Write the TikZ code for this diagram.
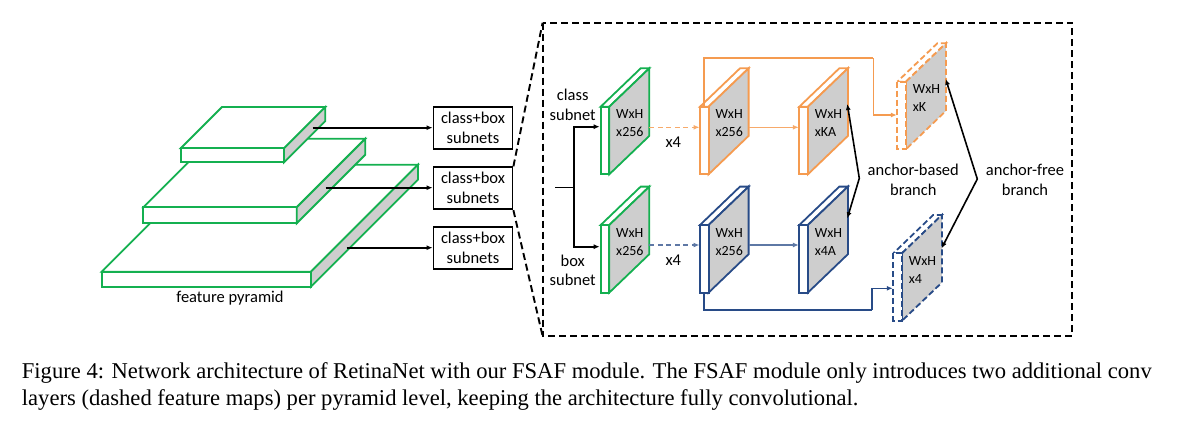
\documentclass[tikz,border=0pt]{standalone}
\usepackage{fontspec}
\setmainfont{Carlito}
\newfontfamily\capfont{Liberation Serif}
\usetikzlibrary{arrows.meta,calc}
\definecolor{fgreen}{RGB}{20,176,80}
\definecolor{forange}{RGB}{245,155,80}
\definecolor{fblue}{RGB}{40,75,135}
\definecolor{fgray}{RGB}{206,206,206}
\tikzset{
  slabline/.style={draw=fgreen, line width=1.8pt},
  box/.style={draw, line width=1.8pt, minimum width=79pt, minimum height=42pt, inner sep=0pt, align=center, font=\fontsize{16.5}{20}\selectfont},
  lbl/.style={inner sep=0pt, align=center, font=\fontsize{16.5}{19.5}\selectfont},
  maptext/.style={anchor=north west, inner sep=0pt, align=left, font=\fontsize{14}{18}\selectfont},
  captext/.style={anchor=base west, inner sep=0pt, font=\capfont\fontsize{22.6}{27}\selectfont},
  arr/.style={-{Latex[length=6pt,width=5pt]}, line width=1.6pt},
  cdash/.style={dash pattern=on 5pt off 3.5pt},
  mapdash/.style={dash pattern=on 6pt off 3pt},
  bigdash/.style={line width=1.9pt, dash pattern=on 7pt off 4pt},
  dblarr/.style={{Latex[length=6pt,width=5pt]}-{Latex[length=6pt,width=5pt]}, line width=1.6pt},
}
\newcommand{\slab}[5]{%
  \filldraw[slabline,fill=white] (#1,#2) -- (#1+#3,#2) -- (#1+#3+#5,#2-#5) -- (#1+#5,#2-#5) -- cycle;
  \filldraw[slabline,fill=white] (#1,#2) rectangle (#1+#3,#2+#4);
  \filldraw[slabline,fill=fgray] (#1+#3,#2) -- (#1+#3+#5,#2-#5) -- (#1+#3+#5,#2-#5+#4) -- (#1+#3,#2+#4) -- cycle;
}
\newcommand{\fmap}[3]{%
  \begin{scope}[draw=#2, line width=1.8pt, #3]
    \filldraw[fill=white] (#1) -- ++(8.6,0) -- ++(40,-38.4) -- ++(-8.6,0) -- cycle;
    \filldraw[fill=fgray] ($(#1)+(8.6,0)$) -- ++(40,-38.4) -- ++(0,67.6) -- ++(-40,38.4) -- cycle;
    \filldraw[fill=white] (#1) rectangle ++(8.6,67.6);
  \end{scope}}
\begin{document}
\begin{tikzpicture}[x=1pt,y=-1pt]
\useasboundingbox (0,0) rectangle (1186,423);

% feature pyramid
\slab{101.7}{271.7}{209.3}{15}{107}
\slab{143.3}{207.3}{153.4}{16}{68.6}
\slab{180.7}{148.3}{103.3}{14}{41.3}
\node[lbl] (fp) at (230,298) {feature pyramid};
\coordinate (s1) at (312.7,127.7);
\coordinate (s2) at (325.7,187.7);
\coordinate (s3) at (346.7,247.7);

% subnet boxes
\node[box] (b1) at (473,128.2) {class+box\\subnets};
\node[box] (b2) at (473,188.3) {class+box\\subnets};
\node[box] (b3) at (473,248) {class+box\\subnets};
\draw[arr] (s1) -- (b1.west |- s1);
\draw[arr] (s2) -- (b2.west |- s2);
\draw[arr] (s3) -- (b3.west |- s3);

% zoom box
\coordinate (rtl) at (542.6,22.7);
\coordinate (rbr) at (1072.3,336);
\draw[bigdash] (rtl) rectangle (rbr);
\draw[bigdash] (b2.north east) -- (rtl);
\draw[bigdash] (b2.south east) -- (rtl |- rbr);

% feature maps
\coordinate (G1) at (600.7,106.7);
\coordinate (O2) at (700,106.7);
\coordinate (O3) at (799.3,106.7);
\coordinate (OK) at (897.3,81.7);
\coordinate (G2) at (600.7,225);
\coordinate (B2) at (700,225);
\coordinate (B3) at (799.3,225);
\coordinate (B4) at (893.3,253.3);

\fmap{G1}{fgreen}{}
\fmap{O2}{forange}{}
\fmap{O3}{forange}{}
\fmap{OK}{forange}{mapdash}
\fmap{G2}{fgreen}{}
\fmap{B2}{fblue}{}
\fmap{B3}{fblue}{}
\fmap{B4}{fblue}{mapdash}

\node[maptext] (tG1) at ($(G1)+(15.3,3)$) {WxH\\x256};
\node[maptext] (tO2) at ($(O2)+(15.3,3)$) {WxH\\x256};
\node[maptext] (tO3) at ($(O3)+(15.3,3)$) {WxH\\xKA};
\node[maptext] (tOK) at ($(OK)+(15.3,3)$) {WxH\\xK};
\node[maptext] (tG2) at ($(G2)+(15.3,3)$) {WxH\\x256};
\node[maptext] (tB2) at ($(B2)+(15.3,3)$) {WxH\\x256};
\node[maptext] (tB3) at ($(B3)+(15.3,3)$) {WxH\\x4A};
\node[maptext] (tB4) at ($(B4)+(15.3,3)$) {WxH\\x4};

% fork
\node[lbl] (lcls) at (572.7,105) {class\\subnet};
\node[lbl] (lbox) at (572.7,270.3) {box\\subnet};
\coordinate (fk0) at (555,187.3);
\coordinate (fk1) at (574,187.3);
\draw[line width=1.6pt] (fk0) -- (fk1);
\draw[arr] (fk1) |- ($(G1)+(-1,20)$);
\draw[arr] (fk1) |- ($(G2)+(-1,21.7)$);

% class branch connectors
\draw[arr, forange!85, cdash] ($(G1)+(48.6,20.6)$) -- ($(O2)+(-0.5,20.6)$);
\node[lbl] (x4a) at (673.3,142.3) {x4};
\draw[arr, forange!85] ($(O2)+(48.6,20.6)$) -- ($(O3)+(-0.5,20.6)$);
\coordinate (oc) at (873.3,58.3);
\draw[forange, line width=1.8pt] ($(O2)+(4,0)$) |- (oc);
\draw[arr, forange] (oc) |- ($(OK)+(-0.5,33.3)$);

% box branch connectors
\draw[arr, fblue!75, cdash] ($(G2)+(48.6,20)$) -- ($(B2)+(-0.5,20)$);
\node[lbl] (x4b) at (673.3,260) {x4};
\draw[arr, fblue!75] ($(B2)+(48.6,20)$) -- ($(B3)+(-0.5,20)$);
\coordinate (bc) at (871.7,310);
\draw[fblue, line width=1.8pt] ($(B2)+(4,67.6)$) |- (bc);
\draw[arr, fblue] (bc) |- ($(B4)+(-0.5,35)$);

% branch double arrows
\coordinate (ab) at (859.3,178.3);
\coordinate (af) at (977.3,179);
\draw[dblarr] ($(O3)+(48,-2.7)$) -- (ab) -- ($(B3)+(48,-6.7)$);
\draw[dblarr] ($(OK)+(48.4,-2.7)$) -- (af) -- ($(B4)+(48.3,-5)$);
\node[lbl] (lab) at (913.3,179.6) {anchor-based\\branch};
\node[lbl] (laf) at (1025,179.6) {anchor-free\\branch};

% caption
\node[captext] (cap1) at (21.7,378) {Figure 4: Network architecture of RetinaNet with our FSAF module. The FSAF module only introduces two additional conv};
\node[captext] (cap2) at (21.7,405) {layers (dashed feature maps) per pyramid level, keeping the architecture fully convolutional.};
\end{tikzpicture}
\end{document}
